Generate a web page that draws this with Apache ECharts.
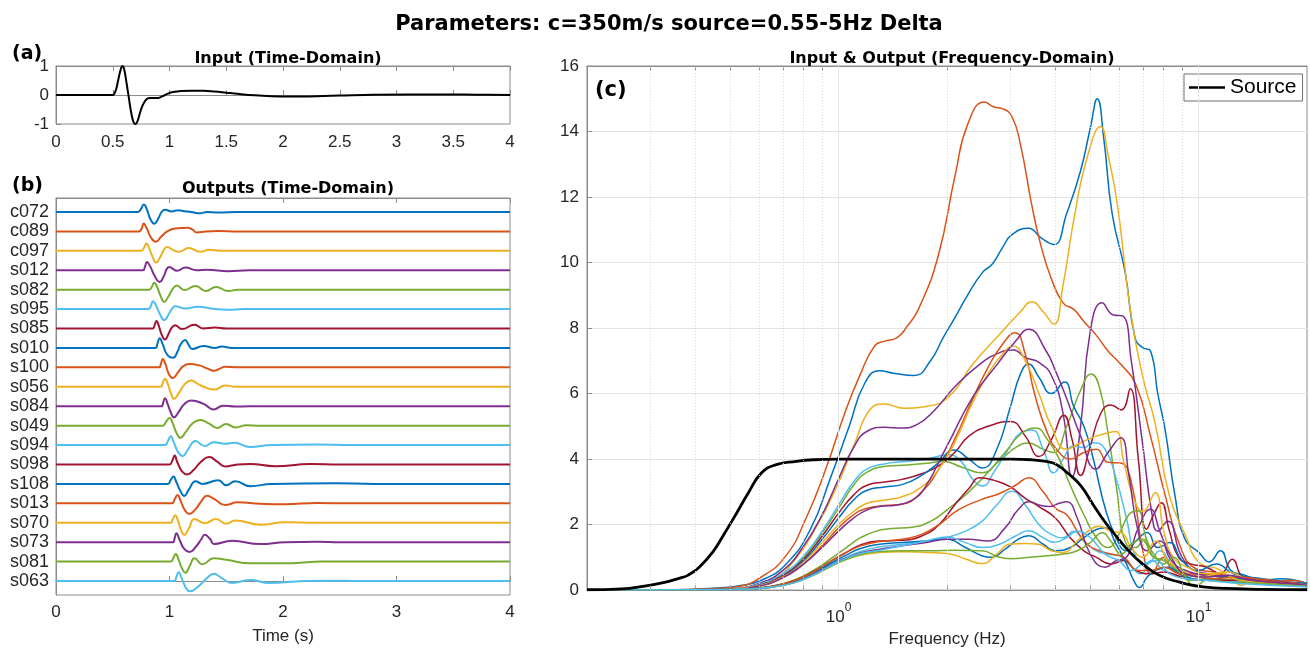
<!DOCTYPE html>
<html>
<head>
<meta charset="utf-8">
<script src="https://cdn.jsdelivr.net/npm/echarts@6/dist/echarts.min.js"></script>
<style>
  html, body { margin: 0; padding: 0; background: #fff; }
  #chart { width: 1310px; height: 653px; }
</style>
</head>
<body>
<div id="chart"></div>
<script>
// ---- station order (top to bottom in panel b) ----
const stationNames = ['c072','c089','c097','s012','s082','s095','s085','s010','s100','s056',
                      's084','s049','s094','s098','s108','s013','s070','s073','s081','s063'];

// MATLAB default line colour order
const palette = ['#0072BD','#D95319','#EDB120','#7E2F8E','#77AC30','#4DBEEE','#A2142F'];

// ---- (a) input pulse, [time s, amplitude] ----
const inputPulse = [[0,0],[0.5,0],[0.51,0.02],[0.53,0.2],[0.55,0.55],[0.57,0.88],[0.585,1.0],[0.6,0.9],
  [0.62,0.45],[0.64,-0.05],[0.66,-0.55],[0.68,-0.9],[0.7,-1.0],[0.72,-0.88],[0.745,-0.55],[0.77,-0.3],
  [0.8,-0.14],[0.83,-0.1],[0.87,-0.1],[0.9,-0.1],[0.94,-0.04],[0.98,0.04],[1.03,0.1],[1.1,0.14],
  [1.2,0.15],[1.3,0.15],[1.4,0.12],[1.5,0.08],[1.6,0.04],[1.75,-0.01],[1.9,-0.04],[2.05,-0.05],
  [2.3,-0.04],[2.5,-0.02],[2.8,0.01],[3.1,0.02],[3.4,0.02],[3.7,0.01],[4,0]];

// ---- (b) output traces, [time s, amplitude in trace-spacing units] ----
const trace_c072 = [[0,0],[0.72,0],[0.745,0.12],[0.774,0.38],[0.8,0.15],[0.83,-0.35],[0.866,-0.6],[0.9,-0.35],[0.93,0],[0.96,0.12],[1.017,0.03],[1.08,0.09],[1.13,0.04],[1.19,0],[1.27,-0.07],[1.33,0],[1.43,-0.03],[1.6,0],[4,0]];
const trace_c089 = [[0,0],[0.73,0],[0.755,0.15],[0.772,0.41],[0.8,0.15],[0.84,-0.35],[0.879,-0.53],[0.93,-0.25],[0.98,0],[1.05,0.15],[1.16,0.19],[1.2,0.1],[1.24,-0.05],[1.32,0],[1.43,0.02],[1.6,0],[4,0]];
const trace_c097 = [[0,0],[0.75,0],[0.775,0.15],[0.797,0.38],[0.82,0.15],[0.85,-0.3],[0.882,-0.6],[0.92,-0.3],[0.95,0.05],[0.98,0.2],[1.03,0.05],[1.08,-0.05],[1.17,0.14],[1.27,-0.05],[1.35,0.05],[1.45,0],[4,0]];
const trace_s012 = [[0,0],[0.765,0],[0.785,0.2],[0.8,0.43],[0.83,0.2],[0.87,-0.3],[0.913,-0.6],[0.95,-0.3],[0.975,0.05],[0.996,0.17],[1.065,-0.03],[1.14,0.14],[1.24,0],[1.33,0.02],[1.52,-0.05],[1.7,0],[4,0]];
const trace_s082 = [[0,0],[0.82,0],[0.845,0.15],[0.866,0.36],[0.89,0.15],[0.92,-0.3],[0.954,-0.63],[0.99,-0.35],[1.03,0.05],[1.065,0.22],[1.13,-0.02],[1.23,0.19],[1.32,-0.07],[1.41,0.14],[1.52,-0.07],[1.6,0],[4,0]];
const trace_s095 = [[0,0],[0.81,0],[0.835,0.15],[0.854,0.41],[0.88,0.2],[0.915,-0.25],[0.954,-0.57],[0.99,-0.3],[1.02,0],[1.05,0.15],[1.14,0.03],[1.25,0.12],[1.4,0],[1.52,-0.03],[1.65,0],[4,0]];
const trace_s085 = [[0,0],[0.85,0],[0.87,0.2],[0.885,0.39],[0.905,0.15],[0.93,-0.3],[0.96,-0.57],[0.99,-0.3],[1.02,0.05],[1.05,0.17],[1.11,-0.03],[1.22,0.19],[1.3,0],[1.4,0.05],[1.5,0],[4,0]];
const trace_s010 = [[0,0],[0.875,0],[0.895,0.25],[0.913,0.5],[0.94,0.2],[0.98,-0.35],[1.03,-0.51],[1.07,-0.2],[1.1,0.2],[1.137,0.41],[1.17,0.15],[1.2,-0.05],[1.3,0.1],[1.4,0],[1.46,0.07],[1.55,0],[4,0]];
const trace_s100 = [[0,0],[0.907,0],[0.925,0.2],[0.94,0.43],[0.965,0.15],[0.995,-0.35],[1.03,-0.55],[1.07,-0.3],[1.12,0.05],[1.174,0.17],[1.27,0.09],[1.33,-0.05],[1.39,-0.17],[1.45,-0.05],[1.49,0.03],[1.6,0],[4,0]];
const trace_s056 = [[0,0],[0.92,0],[0.94,0.2],[0.96,0.41],[0.985,0.15],[1.01,-0.3],[1.04,-0.62],[1.08,-0.35],[1.13,0.1],[1.19,0.33],[1.25,0.15],[1.3,0],[1.4,-0.14],[1.49,0.07],[1.58,0],[4,0]];
const trace_s084 = [[0,0],[0.93,0],[0.945,0.2],[0.96,0.41],[0.985,0.1],[1.01,-0.3],[1.04,-0.57],[1.08,-0.3],[1.13,0.1],[1.19,0.29],[1.3,0.12],[1.39,-0.17],[1.47,0.03],[1.58,-0.02],[1.7,0],[4,0]];
const trace_s049 = [[0,0],[0.94,0],[0.97,0.2],[1.0,0.39],[1.03,0.1],[1.06,-0.35],[1.096,-0.63],[1.14,-0.35],[1.2,0.1],[1.27,0.29],[1.35,0.1],[1.42,-0.12],[1.5,0.09],[1.58,-0.09],[1.68,0.02],[1.8,0],[4,0]];
const trace_s094 = [[0,0],[0.96,0],[0.985,0.2],[1.01,0.45],[1.04,0.1],[1.08,-0.4],[1.117,-0.57],[1.16,-0.25],[1.23,0.21],[1.31,-0.05],[1.39,0.15],[1.49,0.07],[1.57,0.12],[1.71,-0.1],[1.9,0],[2.3,0.03],[2.6,0],[4,0]];
const trace_s098 = [[0,0],[1.0,0],[1.025,0.2],[1.045,0.46],[1.07,0.1],[1.11,-0.35],[1.155,-0.51],[1.21,-0.3],[1.28,0.15],[1.35,0.38],[1.42,0.15],[1.49,-0.1],[1.6,0],[1.71,0.03],[1.93,-0.09],[2.24,0.02],[2.5,0],[4,0]];
const trace_s108 = [[0,0],[0.985,0],[1.01,0.2],[1.035,0.38],[1.06,0.1],[1.095,-0.35],[1.13,-0.62],[1.17,-0.3],[1.23,0.14],[1.29,0],[1.43,0.19],[1.5,-0.07],[1.58,0.14],[1.71,-0.12],[1.9,0],[2.46,0.04],[2.8,0],[4,0]];
const trace_s013 = [[0,0],[1.02,0],[1.045,0.2],[1.07,0.43],[1.1,0.1],[1.135,-0.35],[1.175,-0.55],[1.23,-0.3],[1.28,0.1],[1.33,0.39],[1.4,0.2],[1.49,-0.09],[1.6,0.05],[1.8,-0.02],[2.02,-0.05],[2.3,0.02],[2.6,0],[4,0]];
const trace_s070 = [[0,0],[1.01,0],[1.03,0.2],[1.05,0.38],[1.075,0.1],[1.1,-0.35],[1.13,-0.62],[1.17,-0.3],[1.22,0.19],[1.31,-0.02],[1.41,0.19],[1.5,-0.05],[1.58,0.12],[1.8,-0.1],[2.02,0.03],[2.3,0],[4,0]];
const trace_s073 = [[0,0],[1.03,0],[1.045,0.2],[1.06,0.46],[1.09,0.1],[1.13,-0.35],[1.175,-0.51],[1.23,-0.25],[1.28,0.15],[1.31,0.38],[1.36,0.15],[1.39,-0.09],[1.55,0.07],[1.8,-0.1],[2.02,0],[2.3,0.02],[2.5,0],[4,0]];
const trace_s081 = [[0,0],[1.01,0],[1.035,0.2],[1.055,0.39],[1.08,0.1],[1.11,-0.35],[1.14,-0.57],[1.18,-0.2],[1.22,0.17],[1.29,-0.14],[1.39,0.17],[1.5,0.1],[1.71,-0.09],[2.09,-0.08],[2.34,0],[2.6,0],[4,0]];
const trace_s063 = [[0,0],[1.04,0],[1.06,0.2],[1.08,0.45],[1.11,0.1],[1.15,-0.4],[1.18,-0.53],[1.25,-0.3],[1.33,0.15],[1.39,0.38],[1.46,0.15],[1.55,-0.1],[1.71,0.05],[1.88,-0.1],[2.18,0],[2.4,0.02],[2.7,0],[4,0]];

// ---- (c) amplitude spectra, [frequency Hz, amplitude] ----
const spec_c072 = [[0.2,0],[0.35,0.01],[0.45,0.06],[0.52,0.12],[0.61,0.3],[0.715,0.8],[0.835,1.86],[0.946,3.38],[1.07,5.0],[1.18,6.3],[1.3,6.7],[1.42,6.62],[1.62,6.55],[1.8,7.0],[1.95,7.7],[2.1,8.3],[2.28,9.0],[2.51,9.7],[2.67,9.95],[2.85,10.45],[3.03,10.85],[3.37,11.05],[3.65,10.75],[3.96,10.55],[4.3,11.5],[4.7,12.8],[5.0,14.1],[5.23,15.0],[5.45,13.8],[5.75,11.5],[6.25,9.7],[6.66,7.7],[7.0,7.4],[7.35,7.3],[7.7,6.0],[8.07,4.9],[8.6,2.87],[9.16,1.56],[10,1.16],[10.7,0.86],[11.5,1.2],[12.3,0.6],[13.5,0.45],[15,0.3],[17,0.35],[20,0.2]];
const spec_c089 = [[0.2,0],[0.35,0.01],[0.45,0.05],[0.52,0.1],[0.61,0.4],[0.715,1.06],[0.81,2.17],[0.92,3.68],[1.04,5.4],[1.15,6.6],[1.26,7.46],[1.34,7.6],[1.45,7.7],[1.55,8.05],[1.67,8.6],[1.89,10.2],[2.11,12.7],[2.28,14.2],[2.54,14.9],[2.7,14.75],[2.85,14.7],[3.03,14.45],[3.2,13.6],[3.44,11.75],[3.65,10.5],[3.9,9.5],[4.2,8.77],[4.5,8.57],[4.8,8.2],[5.18,7.8],[5.6,7.3],[6.07,6.9],[6.68,6.3],[7.35,4.7],[8.07,2.9],[8.87,1.36],[9.8,0.66],[11,0.55],[12.5,0.4],[14,0.35],[16,0.25],[18,0.3],[20,0.2]];
const spec_c097 = [[0.2,0],[0.4,0.01],[0.52,0.06],[0.65,0.3],[0.76,0.96],[0.86,1.86],[0.98,3.07],[1.11,4.5],[1.22,5.5],[1.34,5.68],[1.52,5.55],[1.73,5.6],[2.02,5.9],[2.36,6.9],[2.85,7.9],[3.2,8.5],[3.44,8.8],[3.7,8.5],[3.96,8.12],[4.2,9.3],[4.5,11.3],[4.9,13.2],[5.34,14.15],[5.6,13.3],[5.96,11.7],[6.43,8.72],[7.0,6.5],[7.57,5.1],[8.3,2.87],[9.2,1.66],[10,0.86],[11.3,0.65],[12.2,0.4],[13.2,0.15],[14,0.3],[17,0.2],[20,0.15]];
const spec_s012 = [[0.2,0],[0.4,0.01],[0.5,0.04],[0.6,0.2],[0.7,0.6],[0.8,1.35],[0.9,2.3],[1.0,3.4],[1.1,4.35],[1.2,4.85],[1.34,4.97],[1.5,4.95],[1.65,5.05],[1.85,5.5],[2.1,6.2],[2.47,6.9],[2.8,7.25],[3.06,7.33],[3.3,7.1],[3.6,6.95],[3.9,6.55],[4.2,5.4],[4.45,3.45],[4.7,5.0],[5.0,7.9],[5.39,8.77],[5.8,8.4],[6.15,8.37],[6.5,7.0],[7.0,4.4],[7.4,2.4],[7.7,1.8],[8.2,2.1],[9.0,1.0],[10,0.55],[12,0.45],[15,0.3],[20,0.15]];
const spec_s082 = [[0.2,0],[0.4,0.01],[0.5,0.03],[0.6,0.15],[0.7,0.45],[0.8,1.0],[0.9,1.75],[1.0,2.5],[1.1,3.2],[1.2,3.6],[1.35,3.78],[1.55,3.82],[1.79,3.88],[1.95,3.93],[2.2,3.75],[2.5,3.58],[2.8,3.95],[3.1,4.35],[3.37,4.49],[3.7,4.3],[3.95,4.2],[4.3,5.0],[4.7,6.1],[5.03,6.6],[5.3,6.2],[5.6,4.8],[5.9,3.2],[6.3,1.4],[6.7,1.3],[7.0,1.5],[7.5,1.0],[8.2,0.9],[9,0.5],[10,0.4],[12,0.3],[15,0.25],[20,0.15]];
const spec_s095 = [[0.2,0],[0.4,0.01],[0.5,0.04],[0.6,0.18],[0.7,0.5],[0.8,1.05],[0.9,1.8],[1.0,2.6],[1.1,3.3],[1.2,3.7],[1.34,3.85],[1.5,3.92],[1.75,4.0],[2.02,4.13],[2.2,3.9],[2.35,3.4],[2.51,3.18],[2.7,3.6],[3.0,4.4],[3.2,4.8],[3.44,4.89],[3.7,4.3],[3.96,3.58],[4.2,4.0],[4.5,4.4],[4.8,4.35],[5.1,4.5],[5.5,4.3],[5.9,3.4],[6.3,2.2],[6.7,1.0],[7.2,0.8],[7.8,1.2],[8.5,0.7],[9.3,0.4],[10.5,0.3],[13,0.25],[20,0.1]];
const spec_s085 = [[0.2,0],[0.4,0.01],[0.5,0.03],[0.6,0.15],[0.7,0.45],[0.8,0.95],[0.9,1.65],[1.0,2.35],[1.1,2.9],[1.2,3.2],[1.34,3.3],[1.5,3.38],[1.7,3.55],[1.9,3.8],[2.1,4.2],[2.3,4.7],[2.6,5.0],[3.0,5.15],[3.3,4.7],[3.6,4.08],[3.9,4.6],[4.22,5.34],[4.45,4.6],[4.7,3.5],[5.0,4.4],[5.35,5.4],[5.7,5.65],[6.1,5.5],[6.45,6.15],[6.8,4.0],[7.17,1.86],[7.5,2.3],[7.87,2.67],[8.3,1.8],[8.8,1.0],[9.5,0.8],[10.5,0.7],[11.5,0.5],[12.4,0.94],[13.3,0.4],[15,0.3],[20,0.15]];
const spec_s010 = [[0.2,0],[0.4,0.01],[0.5,0.03],[0.6,0.14],[0.7,0.42],[0.8,0.9],[0.9,1.55],[1.0,2.2],[1.1,2.75],[1.2,3.05],[1.34,3.15],[1.5,3.22],[1.7,3.5],[1.9,3.9],[2.09,4.28],[2.3,4.0],[2.51,3.73],[2.75,4.3],[3.0,5.6],[3.2,6.6],[3.37,6.9],[3.6,6.5],[3.9,6.0],[4.24,6.35],[4.5,5.6],[4.8,5.0],[5.1,4.0],[5.5,2.5],[5.9,1.6],[6.3,1.2],[6.7,1.5],[7.2,1.76],[7.7,1.3],[8.3,1.45],[9,0.9],[10,0.6],[11.2,0.8],[12.5,0.5],[15,0.35],[20,0.2]];
const spec_s100 = [[0.2,0],[0.4,0.01],[0.5,0.03],[0.6,0.12],[0.7,0.38],[0.8,0.8],[0.9,1.35],[1.0,1.9],[1.1,2.3],[1.2,2.5],[1.34,2.58],[1.5,2.62],[1.7,3.0],[1.9,3.7],[2.1,4.6],[2.35,5.8],[2.6,6.8],[2.85,7.5],[3.09,7.86],[3.3,7.2],[3.5,6.0],[3.8,4.8],[4.1,4.2],[4.4,4.0],[4.8,4.2],[5.2,4.3],[5.6,3.9],[6.07,3.88],[6.5,3.3],[7.0,1.2],[7.4,0.5],[8,1.0],[8.5,0.6],[9.5,0.5],[11,0.45],[13,0.35],[16,0.3],[20,0.15]];
const spec_s056 = [[0.2,0],[0.4,0.01],[0.5,0.03],[0.6,0.13],[0.7,0.4],[0.8,0.85],[0.9,1.45],[1.0,2.0],[1.1,2.4],[1.2,2.65],[1.35,2.75],[1.5,2.85],[1.7,3.15],[1.9,3.7],[2.1,4.5],[2.35,5.7],[2.6,6.6],[2.85,7.2],[3.05,7.45],[3.3,7.0],[3.6,6.0],[3.9,5.0],[4.3,4.3],[4.7,4.5],[5.2,4.7],[5.6,4.8],[5.89,4.84],[6.2,3.9],[6.6,2.8],[7.0,2.4],[7.57,2.97],[8.0,1.8],[8.5,1.0],[9.3,0.7],[10.5,0.5],[12,0.55],[14,0.3],[20,0.15]];
const spec_s084 = [[0.2,0],[0.4,0.01],[0.5,0.03],[0.6,0.12],[0.7,0.38],[0.8,0.8],[0.9,1.3],[1.0,1.8],[1.1,2.2],[1.2,2.45],[1.3,2.55],[1.45,2.6],[1.6,2.75],[1.73,3.1],[2.0,4.4],[2.36,5.9],[2.76,6.9],[3.1,7.6],[3.37,7.96],[3.77,7.3],[4.0,6.7],[4.28,5.9],[4.7,4.7],[5.18,3.7],[5.6,4.2],[6.07,4.65],[6.4,3.5],[6.77,1.86],[7.2,1.2],[7.8,1.5],[8.4,0.9],[9.2,0.6],[10.5,0.45],[12.5,0.4],[15,0.3],[20,0.15]];
const spec_s049 = [[0.2,0],[0.45,0.01],[0.55,0.04],[0.65,0.12],[0.75,0.3],[0.85,0.6],[0.95,0.95],[1.05,1.3],[1.15,1.6],[1.27,1.8],[1.4,1.88],[1.6,1.92],[1.8,2.1],[2.0,2.45],[2.3,3.0],[2.6,3.6],[2.9,4.2],[3.2,4.75],[3.53,4.95],[3.8,4.6],[4.1,4.0],[4.4,3.2],[4.8,2.3],[5.2,1.6],[5.6,1.3],[6.0,1.7],[6.4,2.3],[6.77,2.42],[7.1,1.7],[7.5,1.0],[8.0,0.9],[8.7,0.6],[9.5,0.3],[10.5,0.35],[12.5,0.3],[15,0.2],[20,0.12]];
const spec_s094 = [[0.2,0],[0.45,0.01],[0.55,0.03],[0.65,0.1],[0.75,0.25],[0.85,0.5],[0.95,0.78],[1.05,1.0],[1.15,1.18],[1.3,1.32],[1.5,1.4],[1.75,1.5],[2.0,1.61],[2.25,1.8],[2.5,2.1],[2.75,2.6],[3.03,3.02],[3.3,2.6],[3.6,2.0],[3.9,1.7],[4.2,1.6],[4.5,1.8],[4.8,1.5],[5.2,1.2],[5.6,1.1],[6.0,1.05],[6.4,0.8],[6.9,0.5],[7.4,0.9],[8.0,0.6],[9.0,0.4],[10.5,0.3],[13,0.25],[20,0.12]];
const spec_s098 = [[0.2,0],[0.45,0.01],[0.55,0.03],[0.65,0.11],[0.75,0.28],[0.85,0.56],[0.95,0.88],[1.05,1.15],[1.15,1.38],[1.3,1.5],[1.5,1.52],[1.7,1.65],[1.9,2.0],[2.1,2.6],[2.3,3.1],[2.47,3.43],[2.7,3.35],[3.0,3.15],[3.3,2.8],[3.6,2.55],[4.0,2.2],[4.4,1.6],[4.8,1.2],[5.2,1.0],[5.7,0.8],[6.2,0.9],[6.7,0.6],[7.3,0.5],[8.0,0.55],[9.0,0.4],[10.5,0.3],[12.5,0.3],[20,0.12]];
const spec_s108 = [[0.2,0],[0.45,0.01],[0.55,0.03],[0.65,0.1],[0.75,0.26],[0.85,0.52],[0.95,0.82],[1.05,1.07],[1.15,1.27],[1.3,1.4],[1.5,1.45],[1.75,1.5],[2.0,1.55],[2.25,1.3],[2.5,1.05],[2.65,1.0],[2.9,1.25],[3.15,1.55],[3.37,1.66],[3.7,1.4],[4.0,1.2],[4.4,1.3],[4.8,1.6],[5.2,1.85],[5.5,1.9],[5.9,1.4],[6.3,0.8],[6.6,0.3],[6.85,0.08],[7.2,0.4],[7.6,0.6],[8.2,0.7],[9.0,0.45],[10.3,0.3],[12,0.4],[14,0.25],[20,0.12]];
const spec_s013 = [[0.2,0],[0.45,0.01],[0.55,0.03],[0.65,0.11],[0.75,0.28],[0.85,0.55],[0.95,0.88],[1.05,1.15],[1.15,1.35],[1.3,1.48],[1.5,1.55],[1.7,1.7],[1.9,2.0],[2.15,2.45],[2.5,2.77],[2.8,2.95],[3.1,3.2],[3.37,3.43],[3.7,3.0],[4.0,2.5],[4.3,2.3],[4.6,1.8],[4.9,1.4],[5.3,1.2],[5.7,1.1],[6.2,1.0],[6.8,0.6],[7.4,0.6],[8.0,0.7],[8.8,0.5],[9.6,0.45],[11,0.35],[13,0.4],[16,0.25],[20,0.15]];
const spec_s070 = [[0.2,0],[0.45,0.01],[0.55,0.03],[0.65,0.09],[0.75,0.22],[0.85,0.45],[0.95,0.72],[1.05,0.93],[1.15,1.07],[1.3,1.15],[1.5,1.17],[1.75,1.15],[2.0,1.12],[2.25,0.95],[2.5,0.81],[2.75,1.1],[3.0,1.41],[3.3,1.42],[3.6,1.4],[3.9,1.2],[4.2,1.15],[4.6,1.5],[5.0,1.85],[5.3,1.95],[5.7,1.8],[6.1,1.75],[6.5,1.3],[7.0,1.0],[7.6,1.5],[8.2,0.9],[9.0,0.6],[10,0.4],[11.5,0.5],[13,0.3],[20,0.15]];
const spec_s073 = [[0.2,0],[0.45,0.01],[0.55,0.03],[0.65,0.09],[0.75,0.23],[0.85,0.47],[0.95,0.75],[1.05,0.98],[1.15,1.13],[1.3,1.25],[1.5,1.35],[1.75,1.45],[2.0,1.55],[2.3,1.55],[2.6,1.5],[2.9,1.9],[3.15,2.45],[3.4,2.7],[3.6,2.6],[3.85,2.55],[4.1,2.65],[4.3,2.7],[4.6,2.2],[5.0,1.1],[5.5,0.7],[5.9,0.9],[6.3,1.0],[6.8,1.9],[7.35,2.47],[7.8,1.8],[8.4,1.0],[9.2,0.5],[10.5,0.4],[12,0.45],[14,0.3],[20,0.15]];
const spec_s081 = [[0.2,0],[0.45,0.01],[0.55,0.03],[0.65,0.09],[0.75,0.22],[0.85,0.45],[0.95,0.72],[1.05,0.94],[1.15,1.08],[1.3,1.18],[1.5,1.2],[1.8,1.2],[2.1,1.22],[2.5,1.2],[2.8,1.0],[3.0,0.96],[3.4,1.0],[3.8,1.05],[4.2,1.1],[4.6,1.2],[5.0,1.45],[5.4,1.75],[5.7,1.5],[6.1,1.1],[6.5,1.4],[7.0,1.55],[7.5,1.1],[8.0,0.8],[8.5,1.0],[9.2,0.4],[9.8,0.1],[10.5,0.3],[12,0.25],[15,0.2],[20,0.12]];
const spec_s063 = [[0.2,0],[0.45,0.01],[0.55,0.03],[0.65,0.09],[0.75,0.22],[0.85,0.46],[0.95,0.74],[1.05,0.97],[1.15,1.12],[1.3,1.22],[1.5,1.35],[1.75,1.5],[2.0,1.62],[2.25,1.45],[2.5,1.3],[2.8,1.4],[3.1,1.65],[3.37,1.81],[3.7,1.6],[3.96,1.46],[4.3,1.6],[4.6,1.8],[5.0,1.6],[5.5,1.1],[6.0,0.9],[6.5,0.6],[7.0,0.8],[7.6,0.9],[8.3,0.5],[9.2,0.35],[10.5,0.3],[13,0.2],[20,0.1]];
const sourceSpectrum = [[0.2,0.01],[0.25,0.04],[0.28,0.1],[0.326,0.23],[0.36,0.36],[0.381,0.45],[0.41,0.7],[0.447,1.16],[0.48,1.7],[0.522,2.37],[0.56,2.95],[0.611,3.58],[0.671,3.83],[0.762,3.93],[0.85,3.98],[1.0,4.0],[1.5,4.0],[2.0,4.0],[2.5,4.0],[3.0,4.0],[3.44,3.98],[3.8,3.92],[4.03,3.83],[4.35,3.55],[4.71,3.18],[5.1,2.6],[5.5,2.07],[5.95,1.6],[6.44,1.16],[6.95,0.82],[7.5,0.55],[8.1,0.37],[8.8,0.25],[9.5,0.16],[10.3,0.1],[12,0.05],[15,0.02],[20,0.01]];

const traces = [trace_c072,trace_c089,trace_c097,trace_s012,trace_s082,trace_s095,trace_s085,trace_s010,trace_s100,trace_s056,
                trace_s084,trace_s049,trace_s094,trace_s098,trace_s108,trace_s013,trace_s070,trace_s073,trace_s081,trace_s063];
const spectra = [spec_c072,spec_c089,spec_c097,spec_s012,spec_s082,spec_s095,spec_s085,spec_s010,spec_s100,spec_s056,
                 spec_s084,spec_s049,spec_s094,spec_s098,spec_s108,spec_s013,spec_s070,spec_s073,spec_s081,spec_s063];

// log-axis grid positions
const majorFreqTicks = [1, 10];
const minorFreqTicks = [0.3,0.4,0.5,0.6,0.7,0.8,0.9,2,3,4,5,6,7,8,9];
const traceSlots = stationNames.map((_, i) => i);

const FONT = "'Liberation Sans', Arial, Helvetica, sans-serif";
const BOLD = "'DejaVu Sans', 'Liberation Sans', sans-serif";
const AX = '#8c8c8c';
const TXT = '#262626';

const frame = { show: true, lineStyle: { color: AX, width: 1 } };
const tickIn = (len) => ({ show: true, inside: true, length: len, lineStyle: { color: AX } });
const lbl = (extra) => Object.assign({ color: TXT, fontFamily: FONT, fontSize: 17 }, extra || {});

const nStations = stationNames.length;
const series = [];

// (a) input
series.push({
  type: 'line', name: 'Input', xAxisIndex: 0, yAxisIndex: 0, data: inputPulse,
  smooth: 0.4, showSymbol: false, lineStyle: { color: '#000', width: 2 }, z: 3
});

// (b) stacked outputs, each shifted onto its own baseline
traces.forEach((pts, i) => {
  const base = nStations - 1 - i;
  series.push({
    type: 'line', name: stationNames[i], xAxisIndex: 2, yAxisIndex: 1,
    data: pts.map(p => [p[0], base + p[1]]),
    smooth: 0.5, showSymbol: false,
    lineStyle: { color: palette[i % palette.length], width: 2 }
  });
});

// (c) frequency grid lines (major solid, minor dotted)
series.push({
  type: 'line', name: 'grid', xAxisIndex: 4, yAxisIndex: 2, data: [], silent: true, z: 1,
  markLine: {
    silent: true, symbol: 'none', animation: false, label: { show: false },
    data: majorFreqTicks.map(v => ({ xAxis: v, lineStyle: { color: '#e3e3e3', type: 'solid', width: 1 } }))
      .concat(minorFreqTicks.map(v => ({ xAxis: v, lineStyle: { color: '#d6d6d6', type: [1, 2], width: 1 } })))
  }
});

// (c) output spectra
spectra.forEach((pts, i) => {
  series.push({
    type: 'line', name: stationNames[i] + ' spectrum', xAxisIndex: 4, yAxisIndex: 2, data: pts,
    smooth: 0.5, showSymbol: false, z: 2,
    lineStyle: { color: palette[i % palette.length], width: 1.5 }
  });
});

// (c) source spectrum on top
series.push({
  type: 'line', name: 'Source', xAxisIndex: 4, yAxisIndex: 2, data: sourceSpectrum,
  smooth: 0.5, showSymbol: false, z: 4,
  itemStyle: { color: '#000' },
  lineStyle: { color: '#000', width: 2.8 }
});

const option = {
  animation: false,
  backgroundColor: '#fff',
  title: [
    { text: 'Parameters: c=350m/s source=0.55-5Hz Delta', left: 664, top: 9, textAlign: 'center',
      textStyle: { fontFamily: BOLD, fontWeight: 'bold', fontSize: 21, color: '#000' } },
    { text: 'Input (Time-Domain)', left: 283, top: 46, textAlign: 'center',
      textStyle: { fontFamily: BOLD, fontWeight: 'bold', fontSize: 16, color: '#000' } },
    { text: 'Outputs (Time-Domain)', left: 283, top: 176, textAlign: 'center',
      textStyle: { fontFamily: BOLD, fontWeight: 'bold', fontSize: 16, color: '#000' } },
    { text: 'Input & Output (Frequency-Domain)', left: 947, top: 46, textAlign: 'center',
      textStyle: { fontFamily: BOLD, fontWeight: 'bold', fontSize: 16, color: '#000' } },
    { text: '(a)', left: 7, top: 40, textStyle: { fontFamily: BOLD, fontWeight: 'bold', fontSize: 19, color: '#000' } },
    { text: '(b)', left: 7, top: 172, textStyle: { fontFamily: BOLD, fontWeight: 'bold', fontSize: 19, color: '#000' } },
    { text: '(c)', left: 590, top: 75, textStyle: { fontFamily: BOLD, fontWeight: 'bold', fontSize: 21, color: '#000' } }
  ],
  legend: {
    data: ['Source'], left: 1184, top: 74, orient: 'vertical',
    icon: 'rect', itemWidth: 36, itemHeight: 2.5, itemGap: 4,
    padding: [3, 6, 3, 5], borderColor: '#6e6e6e', borderWidth: 1, backgroundColor: '#fff',
    textStyle: { fontFamily: FONT, fontSize: 21, color: '#000' }
  },
  grid: [
    { left: 56, top: 66, width: 454, height: 58, show: true, borderColor: AX, borderWidth: 1, backgroundColor: '#fff' },
    { left: 56, top: 198, width: 454, height: 397, show: true, borderColor: AX, borderWidth: 1, backgroundColor: '#fff' },
    { left: 587, top: 66, width: 720, height: 529, show: true, borderColor: AX, borderWidth: 1, backgroundColor: '#fff' }
  ],
  xAxis: [
    { gridIndex: 0, type: 'value', min: 0, max: 4, interval: 0.5, axisLine: frame, axisTick: tickIn(5),
      axisLabel: lbl({ margin: 10 }), splitLine: { show: false } },
    { gridIndex: 0, type: 'value', position: 'top', min: 0, max: 4, interval: 0.5, axisLine: frame, axisTick: tickIn(5),
      axisLabel: { show: false }, splitLine: { show: false } },
    { gridIndex: 1, type: 'value', min: 0, max: 4, interval: 1, axisLine: frame, axisTick: tickIn(5),
      axisLabel: lbl({ margin: 9 }), splitLine: { show: false },
      name: 'Time (s)', nameLocation: 'middle', nameGap: 33, nameTextStyle: lbl({ fontSize: 17 }) },
    { gridIndex: 1, type: 'value', position: 'top', min: 0, max: 4, interval: 1, axisLine: frame, axisTick: tickIn(5),
      axisLabel: { show: false }, splitLine: { show: false } },
    { gridIndex: 2, type: 'log', logBase: 10, min: 0.2, max: 20, axisLine: frame,
      axisTick: Object.assign(tickIn(5), { customValues: minorFreqTicks.concat(majorFreqTicks) }),
      axisLabel: lbl({
        margin: 12, customValues: majorFreqTicks,
        formatter: v => '{b|10}{s|' + Math.round(Math.log10(v)) + '}',
        rich: {
          b: { fontFamily: FONT, fontSize: 17, color: TXT, verticalAlign: 'bottom', lineHeight: 24 },
          s: { fontFamily: FONT, fontSize: 12, color: TXT, verticalAlign: 'top', lineHeight: 12 }
        }
      }),
      splitLine: { show: false },
      name: 'Frequency (Hz)', nameLocation: 'middle', nameGap: 38, nameTextStyle: lbl({ fontSize: 17 }) },
    { gridIndex: 2, type: 'log', logBase: 10, min: 0.2, max: 20, position: 'top', axisLine: frame,
      axisTick: Object.assign(tickIn(5), { customValues: minorFreqTicks.concat(majorFreqTicks) }),
      axisLabel: { show: false }, splitLine: { show: false } }
  ],
  yAxis: [
    { gridIndex: 0, type: 'value', min: -1, max: 1, interval: 1, axisLine: frame, axisTick: tickIn(5),
      axisLabel: lbl({ margin: 7 }), splitLine: { show: false } },
    { gridIndex: 1, type: 'value', min: -0.72, max: 19.72, axisLine: frame,
      axisTick: { show: false },
      axisLabel: lbl({ fontSize: 18, margin: 7, customValues: traceSlots,
        formatter: v => stationNames[nStations - 1 - Math.round(v)] }),
      splitLine: { show: false } },
    { gridIndex: 2, type: 'value', min: 0, max: 16, interval: 2, axisLine: frame, axisTick: tickIn(5),
      axisLabel: lbl({ margin: 8 }),
      splitLine: { show: true, lineStyle: { color: '#e3e3e3', width: 1 } } }
  ],
  series: series
};

const chart = echarts.init(document.getElementById('chart'), null, { renderer: 'canvas' });
chart.setOption(option);
</script>
</body>
</html>
